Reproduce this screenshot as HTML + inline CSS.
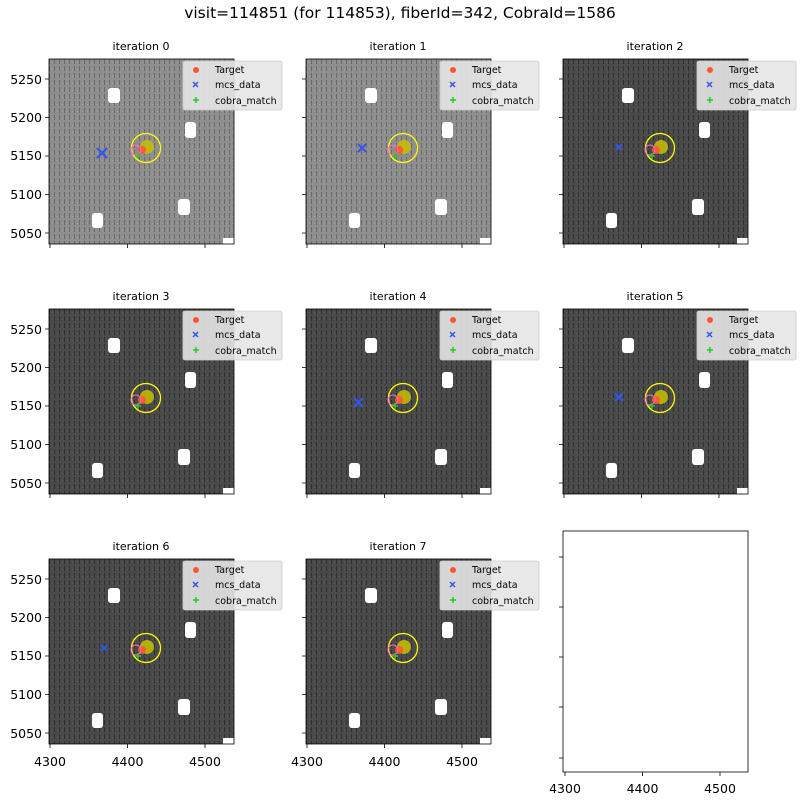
<!DOCTYPE html>
<html><head><meta charset="utf-8"><style>
body{margin:0;background:#fff}
svg{display:block;font-family:"DejaVu Sans","Liberation Sans",sans-serif}
</style></head><body>
<svg width="800" height="800" viewBox="0 0 800 800" xmlns="http://www.w3.org/2000/svg">
<defs>
<pattern id="pl" width="5" height="7" patternUnits="userSpaceOnUse">
<rect width="5" height="7" fill="#8e8e8e"/><rect x="0" width="1" height="5" fill="#6a6a6a"/><rect x="3" y="3" width="1" height="1" fill="#a4a4a4"/>
</pattern>
<pattern id="pd" width="5" height="7" patternUnits="userSpaceOnUse">
<rect width="5" height="7" fill="#4a4a4a"/><rect x="0" width="1" height="5" fill="#303030"/><rect x="3" y="3" width="1" height="1" fill="#5e5e5e"/>
</pattern>
<g id="stars">
<rect x="59" y="29" width="12" height="15" rx="3" fill="#fff"/>
<rect x="136" y="63" width="11" height="16" rx="3" fill="#fff"/>
<rect x="129" y="140" width="12" height="16" rx="3" fill="#fff"/>
<rect x="43" y="154" width="11" height="15" rx="3" fill="#fff"/>
<rect x="174" y="179" width="11" height="6" fill="#fff"/>
<circle cx="97" cy="89" r="14.5" fill="none" stroke="#ffff00" stroke-width="1.3"/>
<circle cx="98" cy="88" r="7" fill="#c8c000" fill-opacity="0.85"/>
<circle cx="93" cy="91" r="4" fill="#ff5533" fill-opacity="0.9"/>
<circle cx="87" cy="91" r="5" fill="none" stroke="#ff66cc" stroke-width="1"/>
<path d="M89 94v6M86 97h6" stroke="#22cc22" stroke-width="1.5"/>
</g>
<g id="leg">
<rect x="134" y="2" width="99" height="49" rx="2" fill="#e6e6e6" fill-opacity="0.9" stroke="#ccc" stroke-width="0.8"/>
<circle cx="147" cy="11" r="3" fill="#ff5533"/>
<path d="M144 23l5 5M149 23l-5 5" stroke="#3355ee" stroke-width="1.5"/>
<path d="M147 38v6M144 41h6" stroke="#22cc22" stroke-width="1.5"/>
<text x="166" y="14" font-size="9.5">Target</text>
<text x="166" y="29" font-size="9.5">mcs_data</text>
<text x="166" y="45" font-size="9.5">cobra_match</text>
</g>
<g id="tk">
<path d="M1 185v4M78.5 185v4M156 185v4M0 20h-4M0 58.5h-4M0 97h-4M0 135.5h-4M0 174h-4" stroke="#000" stroke-width="0.8"/>
</g>
</defs>
<text x="400" y="18" font-size="15.5" text-anchor="middle">visit=114851 (for 114853), fiberId=342, CobraId=1586</text>

<g transform="translate(49,59)"><rect width="185" height="185" fill="url(#pl)"/><use href="#stars"/><path d="M48 89l10 10M58 89l-10 10" stroke="#3355ee" stroke-width="2.2"/><rect width="185" height="185" fill="none" stroke="#000" stroke-width="0.8"/><use href="#tk"/><use href="#leg"/></g>
<g transform="translate(306,59)"><rect width="185" height="185" fill="url(#pl)"/><use href="#stars"/><path d="M52 85l8 8M60 85l-8 8" stroke="#3355ee" stroke-width="2"/><rect width="185" height="185" fill="none" stroke="#000" stroke-width="0.8"/><use href="#tk"/><use href="#leg"/></g>
<g transform="translate(563,59)"><rect width="185" height="185" fill="url(#pd)"/><use href="#stars"/><path d="M53 85l6 6M59 85l-6 6" stroke="#3355ee" stroke-width="1.8"/><rect width="185" height="185" fill="none" stroke="#000" stroke-width="0.8"/><use href="#tk"/><use href="#leg"/></g>
<g transform="translate(49,309)"><rect width="185" height="185" fill="url(#pd)"/><use href="#stars"/><rect width="185" height="185" fill="none" stroke="#000" stroke-width="0.8"/><use href="#tk"/><use href="#leg"/></g>
<g transform="translate(306,309)"><rect width="185" height="185" fill="url(#pd)"/><use href="#stars"/><path d="M48 89l9 9M57 89l-9 9" stroke="#3355ee" stroke-width="2.2"/><rect width="185" height="185" fill="none" stroke="#000" stroke-width="0.8"/><use href="#tk"/><use href="#leg"/></g>
<g transform="translate(563,309)"><rect width="185" height="185" fill="url(#pd)"/><use href="#stars"/><path d="M52 84l8 8M60 84l-8 8" stroke="#3355ee" stroke-width="2"/><rect width="185" height="185" fill="none" stroke="#000" stroke-width="0.8"/><use href="#tk"/><use href="#leg"/></g>
<g transform="translate(49,559)"><rect width="185" height="185" fill="url(#pd)"/><use href="#stars"/><path d="M52 86l6 6M58 86l-6 6" stroke="#3355ee" stroke-width="1.8"/><rect width="185" height="185" fill="none" stroke="#000" stroke-width="0.8"/><use href="#tk"/><use href="#leg"/></g>
<g transform="translate(306,559)"><rect width="185" height="185" fill="url(#pd)"/><use href="#stars"/><rect width="185" height="185" fill="none" stroke="#000" stroke-width="0.8"/><use href="#tk"/><use href="#leg"/></g>

<rect x="563" y="531" width="185" height="241" fill="#fff" stroke="#000" stroke-width="0.8"/>
<path d="M565 772v4M642.5 772v4M720 772v4M563 557h-4M563 607h-4M563 657h-4M563 707h-4M563 758h-4" stroke="#000" stroke-width="0.8"/>

<g font-size="11" text-anchor="middle">
<text x="141" y="50">iteration 0</text><text x="398" y="50">iteration 1</text><text x="655" y="50">iteration 2</text>
<text x="141" y="300">iteration 3</text><text x="398" y="300">iteration 4</text><text x="655" y="300">iteration 5</text>
<text x="141" y="550">iteration 6</text><text x="398" y="550">iteration 7</text>
</g>
<g font-size="12.5" text-anchor="end">
<text x="42" y="84">5250</text><text x="42" y="122">5200</text><text x="42" y="160">5150</text><text x="42" y="199">5100</text><text x="42" y="238">5050</text>
<text x="42" y="334">5250</text><text x="42" y="372">5200</text><text x="42" y="410">5150</text><text x="42" y="449">5100</text><text x="42" y="488">5050</text>
<text x="42" y="584">5250</text><text x="42" y="622">5200</text><text x="42" y="660">5150</text><text x="42" y="699">5100</text><text x="42" y="738">5050</text>
</g>
<g font-size="12.5" text-anchor="middle">
<text x="50" y="766">4300</text><text x="127.5" y="766">4400</text><text x="205" y="766">4500</text>
<text x="307" y="766">4300</text><text x="384.5" y="766">4400</text><text x="462" y="766">4500</text>
<text x="565" y="793">4300</text><text x="642.5" y="793">4400</text><text x="720" y="793">4500</text>
</g>
</svg>
</body></html>
